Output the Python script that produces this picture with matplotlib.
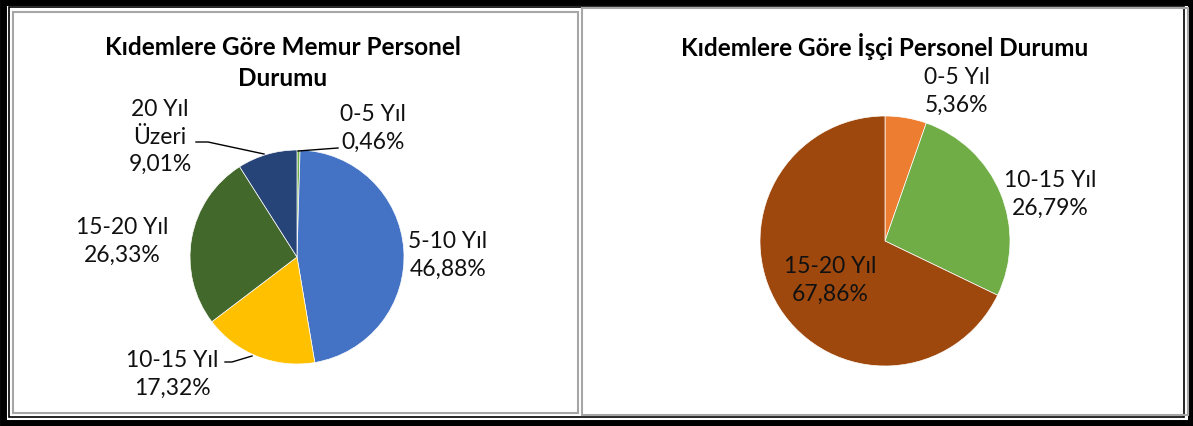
import matplotlib.pyplot as plt
from matplotlib.patches import Rectangle

plt.rcParams['font.family'] = ['Lato', 'DejaVu Sans']

W, H = 1193, 427

# data
memur_labels = ["0-5 Yıl", "5-10 Yıl", "10-15 Yıl", "15-20 Yıl", "20 Yıl\nÜzeri"]
memur_values = [0.46, 46.88, 17.32, 26.33, 9.01]
memur_colors = ["#70AD47", "#4472C4", "#FFC000", "#43682B", "#264478"]

isci_labels = ["0-5 Yıl", "10-15 Yıl", "15-20 Yıl"]
isci_values = [5.36, 26.79, 67.86]
isci_colors = ["#ED7D31", "#70AD47", "#9E480E"]

# label positions in pixels (x, y from top)
memur_label_pos = [(373, 128), (448, 255), (172, 374), (122, 241), (160, 137)]
isci_label_pos = [(957, 91), (1050, 194), (830, 280)]


def fy(y):
    return H - y


def fmt(v):
    return f"{v:.2f}".replace(".", ",") + "%"


fig = plt.figure(figsize=(W / 100, H / 100), dpi=100)
ax = fig.add_axes([0, 0, 1, 1])

ax.pie(memur_values, colors=memur_colors, startangle=90, counterclock=False,
       center=(297, fy(258)), radius=107, frame=True,
       wedgeprops=dict(edgecolor="white", linewidth=0.5))
ax.pie(isci_values, colors=isci_colors, startangle=90, counterclock=False,
       center=(885, fy(242)), radius=125, frame=True,
       wedgeprops=dict(edgecolor="white", linewidth=0.5))

ax.set_xlim(0, W)
ax.set_ylim(0, H)
ax.axis("off")

for lab, v, (x, y) in zip(memur_labels, memur_values, memur_label_pos):
    ax.text(x, fy(y), lab + "\n" + fmt(v), ha="center", va="center",
            fontsize=16.5, linespacing=1.4, color="#111111")
for lab, v, (x, y) in zip(isci_labels, isci_values, isci_label_pos):
    ax.text(x, fy(y), lab + "\n" + fmt(v), ha="center", va="center",
            fontsize=16.5, linespacing=1.4, color="#111111")

# leader lines
ax.plot([196, 208, 264], [fy(143), fy(143), fy(155)], color="black", lw=1)
ax.plot([298, 338], [fy(152), fy(149)], color="black", lw=1)
ax.plot([225, 232, 252], [fy(363), fy(363), fy(357)], color="black", lw=1)

ax.text(283, fy(63), "Kıdemlere Göre Memur Personel\nDurumu", ha="center",
        va="center", fontsize=17.5, fontweight="bold", linespacing=1.38)
ax.text(885, fy(47), "Kıdemlere Göre İşçi Personel Durumu", ha="center",
        va="center", fontsize=17.5, fontweight="bold")

# frames
ax.add_patch(Rectangle((2.5, fy(424)), 1188, 421.5, fill=False, ec="black", lw=5, clip_on=False))
ax.add_patch(Rectangle((9, fy(418)), 1175, 410, fill=False, ec="black", lw=1.2, clip_on=False))
ax.add_patch(Rectangle((13, fy(414)), 565, 401, fill=False, ec="#A6A6A6", lw=1.5, clip_on=False))
ax.add_patch(Rectangle((582, fy(416)), 606, 407, fill=False, ec="#A6A6A6", lw=1.5, clip_on=False))

fig.savefig("out.png", dpi=100)
